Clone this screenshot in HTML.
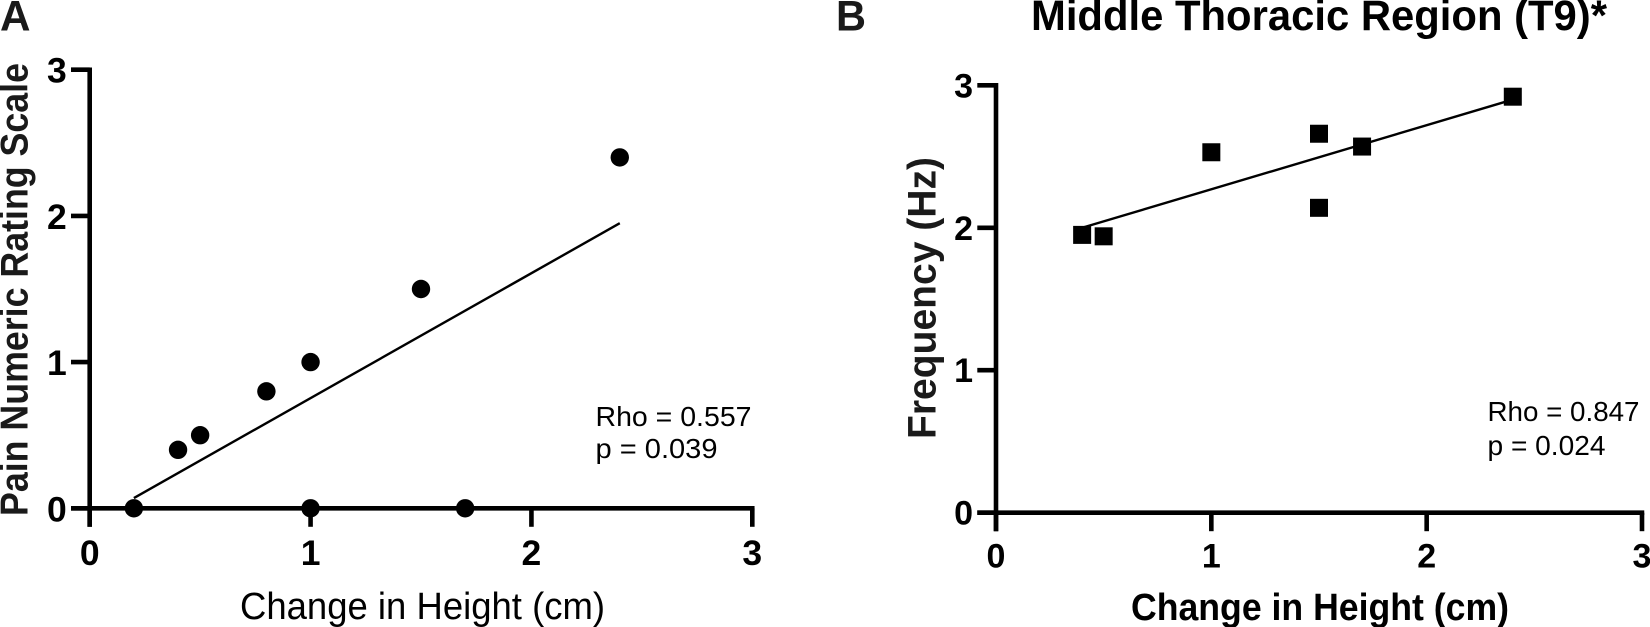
<!DOCTYPE html>
<html lang="en">
<head>
<meta charset="utf-8">
<title>Change in Height Correlations</title>
<style>
html,body{margin:0;padding:0;background:#fff;width:1650px;height:627px;overflow:hidden}
svg{display:block}
text{font-family:"Liberation Sans",Arial,sans-serif;fill:#000}
.b{font-weight:700}
.dark{fill:#1a1a1a}
</style>
</head>
<body>
<svg id="fig" xmlns="http://www.w3.org/2000/svg" width="1650" height="627" viewBox="0 0 1650 627">
  <rect width="1650" height="627" fill="#fff"/>
  <text class="b dark" x="0" y="30.5" font-size="43" textLength="30.5" lengthAdjust="spacingAndGlyphs">A</text>
  <text class="b dark" x="836" y="30.5" font-size="43" textLength="30" lengthAdjust="spacingAndGlyphs">B</text>
  <text class="b" x="1031" y="30" font-size="43" textLength="576" lengthAdjust="spacingAndGlyphs">Middle Thoracic Region (T9)*</text>

  <text class="b dark" transform="translate(27.5,516) rotate(-90)" font-size="38.5" textLength="453" lengthAdjust="spacingAndGlyphs">Pain Numeric Rating Scale</text>
  <text x="240" y="619" font-size="38" textLength="365" lengthAdjust="spacingAndGlyphs">Change in Height (cm)</text>
  <text x="595.5" y="426" font-size="27.5" textLength="156" lengthAdjust="spacingAndGlyphs">Rho = 0.557</text>
  <text x="595.5" y="458" font-size="27.5" textLength="122" lengthAdjust="spacingAndGlyphs">p = 0.039</text>

  <text class="b dark" transform="translate(935.5,439) rotate(-90)" font-size="40" textLength="282" lengthAdjust="spacingAndGlyphs">Frequency (Hz)</text>
  <text class="b" x="1131" y="620" font-size="38" textLength="378" lengthAdjust="spacingAndGlyphs">Change in Height (cm)</text>
  <text x="1487.5" y="421" font-size="27.5" textLength="152" lengthAdjust="spacingAndGlyphs">Rho = 0.847</text>
  <text x="1487.5" y="455" font-size="27.5" textLength="118" lengthAdjust="spacingAndGlyphs">p = 0.024</text>
</svg>
<script>
// Panel A values
const aPointsX = [0.2, 0.4, 0.5, 0.8, 1.0, 1.0, 1.5, 1.7, 2.4];
const aPointsY = [0.0, 0.4, 0.5, 0.8, 1.0, 0.0, 1.5, 0.0, 2.4];
const aFitX = [0.2, 2.4];
const aFitY = [0.07, 1.95];
const aTickLabelsX = ["0", "1", "2", "3"];
const aTickLabelsY = ["0", "1", "2", "3"];

// Panel B values
const bPointsX = [0.4, 0.5, 1.0, 1.5, 1.5, 1.7, 2.4];
const bPointsY = [1.95, 1.94, 2.53, 2.66, 2.14, 2.57, 2.92];
const bFitX = [0.4, 2.4];
const bFitY = [2.0, 2.9];
const bTickLabelsX = ["0", "1", "2", "3"];
const bTickLabelsY = ["0", "1", "2", "3"];

const NS = 'http://www.w3.org/2000/svg';
const fig = document.getElementById('fig');

function make(tag, attrs, parent) {
  const el = document.createElementNS(NS, tag);
  for (const k in attrs) el.setAttribute(k, attrs[k]);
  (parent || fig).appendChild(el);
  return el;
}

function scaleA_X(v) { return 89.7 + v * (752.3 - 89.7) / 3; }
function scaleA_Y(v) { return 508.3 - v * (508.3 - 69.7) / 3; }
function scaleB_X(v) { return 996 + v * (1642 - 996) / 3; }
function scaleB_Y(v) { return 512.7 - v * (512.7 - 85.3) / 3; }

function drawAxes(prefix, sx, sy, xLabels, yLabels, fontSize, yLabelShift, xLabelBase) {
  const x0 = sx(0), y0 = sy(0);
  const xMax = sx(Number(xLabels[xLabels.length - 1]));
  const yMax = sy(Number(yLabels[yLabels.length - 1]));

  const yAxis = make('line', {x1: x0, x2: x0, y1: yMax - 2.25, y2: y0 + 18.5, stroke: '#000', 'stroke-width': 4.6});
  
  

  const xAxis = make('line', {x1: x0 - 18.7, x2: xMax + 2.25, y1: y0, y2: y0, stroke: '#000', 'stroke-width': 4.6});
  
  

  xLabels.forEach(function (lab) {
    const px = sx(Number(lab));
    const tick = make('line', {x1: px, x2: px, y1: y0, y2: y0 + 18.5, stroke: '#000', 'stroke-width': 4.6});
    
    
    const t = make('text', {x: px, y: xLabelBase, 'text-anchor': 'middle', 'font-size': fontSize, 'class': 'b'});
    
    
    t.textContent = lab;
  });

  yLabels.forEach(function (lab) {
    const py = sy(Number(lab));
    const tick = make('line', {x1: x0 - 18.7, x2: x0, y1: py, y2: py, stroke: '#000', 'stroke-width': 4.6});
    
    
    const t = make('text', {x: x0 - 23, y: py + yLabelShift, 'text-anchor': 'end', 'font-size': fontSize, 'class': 'b'});
    
    
    t.textContent = lab;
  });
}

drawAxes('a', scaleA_X, scaleA_Y, aTickLabelsX, aTickLabelsY, 35.5, 13, 565);
drawAxes('b', scaleB_X, scaleB_Y, bTickLabelsX, bTickLabelsY, 34, 12, 567.7);

const aFit = make('line', {x1: scaleA_X(aFitX[0]), y1: scaleA_Y(aFitY[0]), x2: scaleA_X(aFitX[1]), y2: scaleA_Y(aFitY[1]), stroke: '#000', 'stroke-width': 2.4});



const bFit = make('line', {x1: scaleB_X(bFitX[0]), y1: scaleB_Y(bFitY[0]), x2: scaleB_X(bFitX[1]), y2: scaleB_Y(bFitY[1]), stroke: '#000', 'stroke-width': 2.4});



aPointsX.forEach(function (v, i) {
  const c = make('circle', {cx: scaleA_X(v), cy: scaleA_Y(aPointsY[i]), r: 9.2, fill: '#000'});
  
  
});

bPointsX.forEach(function (v, i) {
  const s = make('rect', {x: scaleB_X(v) - 9, y: scaleB_Y(bPointsY[i]) - 9, width: 18, height: 18, fill: '#000'});
  
  
});
</script>
</body>
</html>
